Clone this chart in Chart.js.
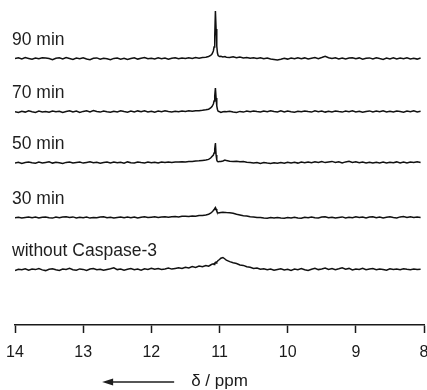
<!DOCTYPE html>
<html>
<head>
<meta charset="utf-8">
<script src="https://cdn.jsdelivr.net/npm/chart.js@4.4.1/dist/chart.umd.min.js"></script>
<style>
html,body{margin:0;padding:0;background:#fff;}
#wrap{width:427px;height:390px;position:relative;}
</style>
</head>
<body>
<div id="wrap"><canvas id="c" width="427" height="390"></canvas></div>
<script>
// chemical shift grid (ppm)
const ppm = [
14.00,13.95,13.90,13.85,13.80,13.75,13.70,13.65,13.60,13.55,
13.50,13.45,13.40,13.35,13.30,13.25,13.20,13.15,13.10,13.05,
13.00,12.95,12.90,12.85,12.80,12.75,12.70,12.65,12.60,12.55,
12.50,12.45,12.40,12.35,12.30,12.25,12.20,12.15,12.10,12.05,
12.00,11.95,11.90,11.85,11.80,11.75,11.70,11.65,11.60,11.55,
11.50,11.45,11.40,11.35,11.30,11.25,
11.20,11.16,11.13,11.11,11.09,11.08,11.07,11.06,11.05,11.04,11.03,11.02,11.00,10.98,10.95,10.92,10.90,
10.85,10.80,10.75,10.70,10.65,10.60,10.55,10.50,10.45,10.40,
10.35,10.30,10.25,10.20,10.15,10.10,10.05,10.00,9.95,9.90,
9.85,9.80,9.75,9.70,9.65,9.60,9.55,9.50,9.45,9.40,
9.35,9.30,9.25,9.20,9.15,9.10,9.05,9.00,8.95,8.90,
8.85,8.80,8.75,8.70,8.65,8.60,8.55,8.50,8.45,8.40,
8.35,8.30,8.25,8.20,8.15,8.10,8.05
];

const traceLabels = ['90 min', '70 min', '50 min', '30 min', 'without Caspase-3'];
const traceOffsets = [266, 213, 162, 107, 55];

const int90 = [
0.5,1.3,0.1,1.4,0.6,-0.3,1,0.2,1.2,1.1,
0.4,-0.6,0.8,1.2,0,1.5,0.5,-0.5,0.9,0.3,
1.3,0,-0.7,0.8,1.1,-0.3,0.7,0.2,-0.8,0.6,
1,-0.2,0.8,-0.5,0.4,1.2,-0.1,0.7,1.4,0.2,
0.8,0,1.2,0.3,0.9,-0.2,0.7,1.3,0.2,1,
0.4,1.2,0.5,1.4,0.8,1.5,
1.8,2.5,3.5,5,8,12,22,48,30,13,6,3.5,2.5,2.8,2,2.4,1.8,
1.6,2.2,1.3,2,1.1,1.6,0.7,1.3,0.5,1.2,
0.2,1,0,-0.5,-1,-0.3,0.7,-0.1,0.9,0.2,
1.3,0.2,1.1,0,0.8,1.4,0.4,1.5,2.7,1.2,
0.5,1.3,0.1,1,0,0.9,1.3,0.2,1.1,-0.2,
0.8,1.1,0,1.3,0.4,-0.4,0.9,0.1,1.2,0,
0.9,0.2,1.3,0.1,0.8,-0.1,1
];
const int70 = [
0.3,-0.5,0.8,-0.1,1.2,0.3,-0.4,0.9,0,0.6,
-0.3,1,0.2,0.8,-0.5,0.5,1.3,0,0.9,-0.4,
0.6,1.2,0.1,1.4,0.5,-0.1,1,0.3,-0.3,0.8,
0.1,1.2,0.4,-0.2,0.9,0,1.1,0.3,1.3,0.1,
0.8,-0.2,0.9,0.2,1.2,0.4,0,0.8,0.3,1,
0.5,1.2,0.7,1.3,1.3,1.7,
2.2,2.8,4,5.5,8,11,16,24,14,6,2.5,0.8,0.3,-0.5,0.2,0.5,0.3,
0.7,0,-0.5,0.6,-0.1,0.9,0.2,1.1,0.4,0,
1,0.3,1.2,0.5,0.1,1.1,0,0.9,0.3,-0.2,
0.8,0.2,1,0.4,-0.1,1.2,0.3,0.9,-0.1,0.8,
0.1,1,0.4,-0.1,0.9,0.3,1.2,0.1,0.8,-0.2,
0.6,1.1,0,0.9,0.3,1.2,0.1,0.8,0,1,
0.4,-0.2,0.9,0.3,1.2,0.1,0.8
];
const int50 = [
0.1,0.8,-0.4,0.5,1,0.2,-0.3,0.9,0,0.6,
1.2,-0.1,0.8,0.2,-0.5,0.6,1,0,0.5,0.9,
-0.1,0.6,1.2,0.2,0.8,-0.3,0.5,1,0,0.9,
0.2,0.8,-0.2,1.1,0.3,0,0.9,0.4,0.1,1,
0.3,0.8,0,0.9,0.4,1.1,0.5,1,1,1.3,
1,1.5,1.5,2,2.2,2.6,
3,3.6,5,6.5,8,10,14,20,8,3,1.5,1.2,1.4,1.6,2,3,2.4,
1.8,1.4,1.7,1.2,1.5,0.7,0.4,0,0.5,-0.4,
0.4,-0.1,-0.5,0.3,-0.3,0.5,-0.2,0.8,0,0.7,
-0.1,0.9,0.2,1.1,0.3,1.2,0.5,1.5,0.4,1,
1.6,0.5,1.3,0.1,1.1,1.7,0.5,1.2,0.2,1,
0,0.8,-0.1,0.7,0.1,0.9,0,0.8,0.2,1.1,
0.1,0.9,0,1,0.4,1.3,0.5
];
const int30 = [
0.2,0.8,-0.1,0.6,1,0.3,0.9,0,0.8,1.1,
0.3,-0.1,0.9,0.2,1,1.3,0.4,1.1,0,0.8,
0.3,1,-0.1,0.6,0.2,0.9,1.2,0.3,0.8,0,
0.6,1.1,0.2,0.9,0.3,1,0,0.8,1.2,0.4,
0.8,1.2,0.5,1.1,1.3,0.7,1.3,1.5,1,1.7,
1.8,1.4,2.1,1.7,2.4,2.6,
3,3.8,4.8,6,7.5,8.5,9.5,10.5,9,7,5.5,5,5.3,5.6,5.8,5.6,5.4,
5.2,4.7,3.7,3.1,2.3,1.9,1.2,1.1,0.5,0.5,
0,-0.3,0.4,-0.1,0.6,0.1,-0.3,0.5,0,0.8,
0.1,-0.3,0.7,0.2,1,0.3,0,0.9,1.2,0.2,
0.8,-0.1,0.6,1.1,0.1,0.8,0.3,1.2,0.4,1,
0.1,0.9,1.3,0.3,1,0,0.8,1.2,0.4,0.1,
1.1,1.4,0.5,1.2,0.4,1,0.6
];
const intNone = [
-0.5,0.8,0.2,1.2,-0.3,0.9,0.4,1.5,0.1,-0.6,
0.7,1.3,0.2,-0.4,1,0.5,1.6,0.3,-0.2,1.1,
0.6,-0.5,0.9,1.4,0.2,0.8,-0.3,0.6,1.2,2.2,
0.4,1,-0.2,0.7,1.5,0.3,0.9,-0.1,1.3,0.6,
1.8,0.8,1.4,0.5,1.1,1.9,0.9,1.6,2.3,1.5,
2.8,2,3.4,2.6,4,3.2,
4.5,3.8,5,5.8,6.2,5.5,6.8,7.6,7,8.2,8.8,9.5,10.5,11.8,12.5,11,9.8,
8.4,7.2,6.5,5,4.6,3.2,2.8,1.6,2,0.7,
1.2,0.2,1,-0.3,0.6,1.3,0.1,0.8,-0.4,0.9,
0.3,1.4,0.2,-0.5,0.7,1.8,0.4,1.1,2,0.6,
1.5,0.3,1.2,2.2,0.8,1.6,0.1,1,0.5,1.7,
0.2,0.9,1.4,0.3,1.1,0.6,-0.2,1.3,0.5,0.9,
0.2,1.2,0.7,0.3,1,0.5,0.8
];
const tickValues = [14, 13, 12, 11, 10, 9, 8];
const axisTitle = 'δ / ppm';

const traces = [int90, int70, int50, int30, intNone];
const FONT = "'Liberation Sans', Arial, Helvetica, sans-serif";

const datasets = traces.map((vals, i) => ({
  label: traceLabels[i],
  data: ppm.map((x, j) => ({ x: x, y: traceOffsets[i] + vals[j] })),
  borderColor: '#111',
  borderWidth: 1.5,
  pointRadius: 0,
  tension: 0,
  fill: false
}));

const decorPlugin = {
  id: 'decor',
  afterDatasetsDraw(chart) {
    const ctx = chart.ctx;
    const ys = chart.scales.y;
    ctx.save();
    ctx.fillStyle = '#1e1e1e';
    ctx.font = '17.5px ' + FONT;
    ctx.textAlign = 'left';
    ctx.textBaseline = 'alphabetic';
    traceLabels.forEach((t, i) => {
      const y = ys.getPixelForValue(traceOffsets[i]) - 14;
      ctx.fillText(t, chart.chartArea.left - 3, y);
    });
    // arrow next to axis title
    ctx.font = '17px ' + FONT;
    const w = ctx.measureText(axisTitle).width;
    const cx = (chart.chartArea.left + chart.chartArea.right) / 2;
    const xEnd = cx - w / 2 - 17;
    const xStart = xEnd - 72;
    const ay = chart.height - 8;
    ctx.strokeStyle = '#1e1e1e';
    ctx.lineWidth = 1.4;
    ctx.beginPath();
    ctx.moveTo(xStart + 8, ay);
    ctx.lineTo(xEnd, ay);
    ctx.stroke();
    ctx.fillStyle = '#1e1e1e';
    ctx.beginPath();
    ctx.moveTo(xStart, ay);
    ctx.lineTo(xStart + 11, ay - 3.5);
    ctx.lineTo(xStart + 11, ay + 3.5);
    ctx.closePath();
    ctx.fill();
    ctx.restore();
  }
};

new Chart(document.getElementById('c'), {
  type: 'line',
  data: { datasets: datasets },
  plugins: [decorPlugin],
  options: {
    responsive: false,
    animation: false,
    events: [],
    layout: { padding: { left: 15, right: 3, top: 0, bottom: 0 } },
    plugins: { legend: { display: false }, tooltip: { enabled: false }, title: { display: false } },
    scales: {
      x: {
        type: 'linear',
        reverse: true,
        min: 8,
        max: 14,
        afterBuildTicks(scale) { scale.ticks = tickValues.map(v => ({ value: v })); },
        afterFit(scale) { scale.height = 65; scale.paddingLeft = 0; scale.paddingRight = 0; },
        border: { display: true, color: '#1a1a1a', width: 1.5 },
        grid: { drawOnChartArea: false, drawTicks: true, tickLength: 8, color: '#1a1a1a', tickWidth: 1.5 },
        ticks: {
          color: '#1a1a1a',
          padding: 10,
          maxRotation: 0,
          autoSkip: false,
          font: { family: FONT, size: 16 },
          callback: v => String(v)
        },
        title: {
          display: true,
          text: axisTitle,
          color: '#1a1a1a',
          font: { family: FONT, size: 17, lineHeight: 1 },
          padding: { top: 0, bottom: 0 }
        }
      },
      y: { display: false, min: 0, max: 325 }
    }
  }
});
</script>
</body>
</html>
